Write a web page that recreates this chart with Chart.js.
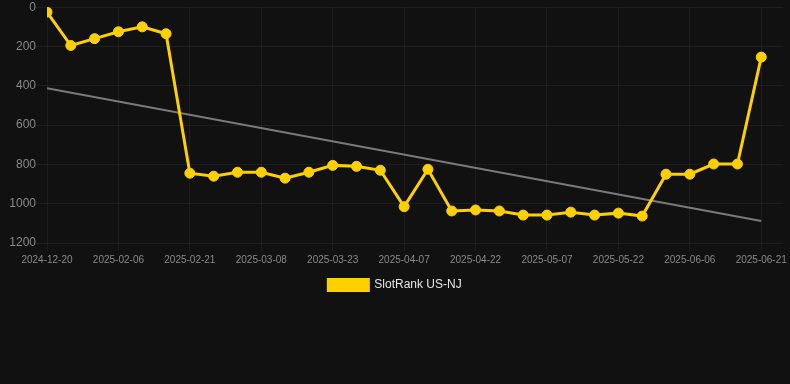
<!DOCTYPE html>
<html>
<head>
<meta charset="utf-8">
<script src="https://cdn.jsdelivr.net/npm/chart.js@4.4.1/dist/chart.umd.min.js"></script>
<style>
  html, body { margin: 0; padding: 0; background: #111111; }
  #wrap { position: relative; width: 790px; height: 301px; }
</style>
</head>
<body>
<div id="wrap"><canvas id="rankChart"></canvas></div>
<script>
const dates = [
  "2024-12-20", "2025-01-27", "2025-02-01", "2025-02-06", "2025-02-11", "2025-02-16",
  "2025-02-21", "2025-02-26", "2025-03-03", "2025-03-08", "2025-03-13", "2025-03-18",
  "2025-03-23", "2025-03-28", "2025-04-02", "2025-04-07", "2025-04-12", "2025-04-17",
  "2025-04-22", "2025-04-27", "2025-05-02", "2025-05-07", "2025-05-12", "2025-05-17",
  "2025-05-22", "2025-05-27", "2025-06-01", "2025-06-06", "2025-06-11", "2025-06-16",
  "2025-06-21"
];
const ranks = [
  25, 195, 160, 125, 100, 135,
  845, 860, 840, 840, 870, 840,
  805, 810, 830, 1015, 825, 1037,
  1032, 1037, 1058, 1058, 1043, 1058,
  1048, 1063, 850, 850, 798, 798,
  254
];
// trend line end points (first / last date)
const trendStart = 412;
const trendEnd = 1088;
const yTicks = [0, 200, 400, 600, 800, 1000, 1200];

const gridColor = "rgba(255,255,255,0.05)";
const tickColor = "#8a8a8a";

const ctx = document.getElementById("rankChart").getContext("2d");
new Chart(ctx, {
  type: "line",
  data: {
    datasets: [
      {
        label: "SlotRank US-NJ",
        data: ranks.map((r, i) => ({ x: i, y: r })),
        borderColor: "#ffd000",
        backgroundColor: "#ffd000",
        borderWidth: 3,
        pointRadius: 5,
        pointBorderWidth: 1,
        tension: 0,
        order: 1
      },
      {
        label: "trend",
        data: [{ x: 0, y: trendStart }, { x: dates.length - 1, y: trendEnd }],
        borderColor: "#7a7a7a",
        borderWidth: 2,
        pointRadius: 0,
        tension: 0,
        order: 2
      }
    ]
  },
  options: {
    responsive: true,
    maintainAspectRatio: false,
    animation: false,
    plugins: {
      legend: {
        position: "bottom",
        labels: {
          color: "#e6e6e6",
          font: { size: 12 },
          boxWidth: 40,
          boxHeight: 11,
          filter: item => item.text !== "trend"
        }
      },
      tooltip: { enabled: false }
    },
    scales: {
      x: {
        type: "linear",
        min: 0,
        max: 30.92,
        afterBuildTicks: axis => {
          axis.ticks = dates.map((d, i) => ({ value: i })).filter(t => t.value % 3 === 0);
        },
        ticks: {
          color: tickColor,
          font: { size: 10 },
          maxRotation: 0,
          autoSkip: false,
          callback: v => dates[v] ?? ""
        },
        grid: { color: gridColor },
        border: { display: false }
      },
      y: {
        reverse: true,
        min: yTicks[0],
        max: yTicks[yTicks.length - 1],
        afterFit: axis => { axis.width = 47; },
        ticks: {
          color: tickColor,
          font: { size: 12 },
          stepSize: 200,
          padding: 0,
          callback: v => String(v)
        },
        grid: { color: gridColor, tickLength: 11 },
        border: { display: false }
      }
    }
  }
});
</script>
</body>
</html>
